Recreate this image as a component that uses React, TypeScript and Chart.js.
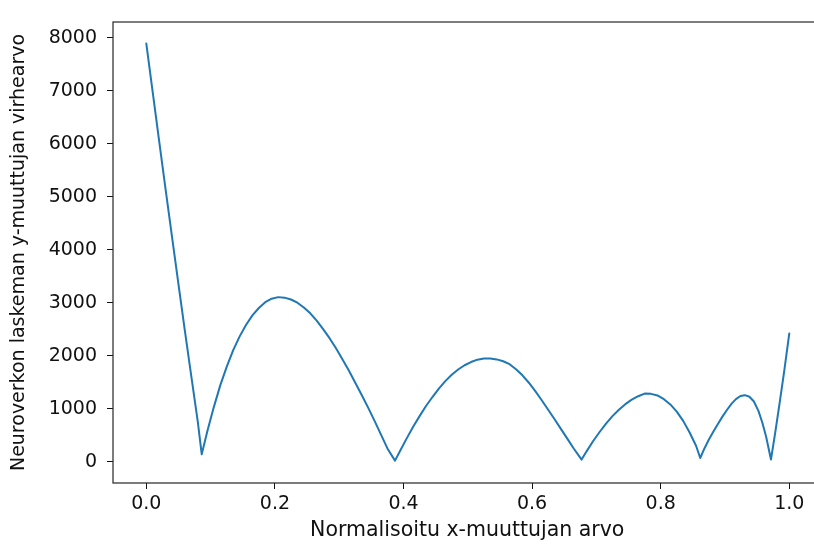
import { useEffect, useRef } from "react";
import { Chart, registerables } from "chart.js";

Chart.register(...registerables);

const xValues = [
  0, 0.01, 0.02, 0.03, 0.04, 0.05, 0.06, 0.07, 0.08, 0.0862,
  0.095, 0.105, 0.115, 0.125, 0.135, 0.145, 0.155, 0.165, 0.175, 0.185, 0.195,
  0.205, 0.215, 0.225, 0.235, 0.245, 0.255, 0.265, 0.275, 0.285, 0.295, 0.305,
  0.315, 0.325, 0.335, 0.345, 0.355, 0.365, 0.375, 0.3868,
  0.395, 0.405, 0.415, 0.425, 0.435, 0.445, 0.455, 0.465, 0.475, 0.485, 0.495,
  0.505, 0.515, 0.525, 0.535, 0.545, 0.555, 0.565, 0.575, 0.585, 0.595, 0.605,
  0.615, 0.625, 0.635, 0.645, 0.655, 0.665, 0.677,
  0.685, 0.695, 0.705, 0.715, 0.725, 0.735, 0.745, 0.755, 0.765, 0.775, 0.785,
  0.795, 0.805, 0.815, 0.825, 0.835, 0.845, 0.855, 0.8615,
  0.868, 0.875, 0.882, 0.889, 0.896, 0.903, 0.91, 0.917, 0.924, 0.931, 0.938,
  0.945, 0.952, 0.958, 0.964, 0.9715,
  0.978, 0.985, 0.992, 1.0,
];

const errorValues = [
  7890, 6970, 6050, 5140, 4240, 3350, 2470, 1610, 760, 140,
  580, 1030, 1440, 1790, 2100, 2360, 2580, 2760, 2900, 3010, 3075,
  3105, 3095, 3060, 3000, 2910, 2800, 2660, 2500, 2330, 2140, 1935,
  1720, 1490, 1260, 1020, 770, 510, 250, 20,
  210, 440, 660, 860, 1050, 1220, 1380, 1520, 1640, 1740, 1820,
  1880, 1925, 1945, 1947, 1930, 1895, 1840, 1745, 1630, 1490, 1330,
  1160, 980, 800, 615, 430, 245, 40,
  200, 390, 560, 720, 860, 980, 1085, 1170, 1235, 1285, 1280,
  1250, 1180, 1080, 945, 770, 550, 300, 70,
  250, 420, 570, 710, 850, 975, 1090, 1180, 1240, 1255, 1225,
  1135, 960, 740, 470, 40,
  540, 1110, 1700, 2420,
];

const xTickValues = [0, 0.2, 0.4, 0.6, 0.8, 1.0];
const yTickValues = [0, 1000, 2000, 3000, 4000, 5000, 6000, 7000, 8000];

const xAxisTitle = "Normalisoitu x-muuttujan arvo";
const yAxisTitle = "Neuroverkon laskeman y-muuttujan virhearvo";

const FONT = "'DejaVu Sans', 'Noto Sans', sans-serif";
const INK = "#111111";

const framePlugin = {
  id: "frame",
  afterDatasetsDraw(chart: any) {
    const { ctx, chartArea } = chart;
    const { left, top, right, bottom } = chartArea;
    ctx.save();
    ctx.strokeStyle = "#262626";
    ctx.lineWidth = 1.2;
    ctx.strokeRect(left, top, right - left, bottom - top);
    ctx.restore();
  },
};

export default function App() {
  const canvasRef = useRef<HTMLCanvasElement | null>(null);

  useEffect(() => {
    const canvas = canvasRef.current;
    if (!canvas) return;
    const points = xValues.map((x, i) => ({ x, y: errorValues[i] }));
    const chart = new Chart(canvas, {
      type: "line",
      data: {
        datasets: [
          {
            data: points,
            borderColor: "#1f77b4",
            borderWidth: 2,
            pointRadius: 0,
            tension: 0,
            borderJoinStyle: "round",
            borderCapStyle: "round",
            fill: false,
          },
        ],
      },
      options: {
        animation: false,
        responsive: false,
        layout: { padding: { top: 22, right: 8.5, left: 0, bottom: 0 } },
        plugins: {
          legend: { display: false },
          tooltip: { enabled: false },
        },
        scales: {
          x: {
            type: "linear",
            min: -0.0518,
            max: 1.0501,
            afterBuildTicks: (scale: any) => {
              scale.ticks = xTickValues.map((v) => ({ value: v }));
            },
            afterFit: (scale: any) => {
              scale.height = 63;
            },
            grid: {
              drawOnChartArea: false,
              drawTicks: true,
              tickLength: 6,
              tickColor: INK,
              tickWidth: 1,
            },
            border: { display: false },
            ticks: {
              padding: 4,
              color: INK,
              font: { family: FONT, size: 19 },
              maxRotation: 0,
              autoSkip: false,
              callback: (v: any) => Number(v).toFixed(1),
            },
            title: {
              display: true,
              text: xAxisTitle,
              color: INK,
              font: { family: FONT, size: 20.5 },
              padding: { top: 0, bottom: 3.5 },
            },
          },
          y: {
            type: "linear",
            min: -402,
            max: 8296,
            afterBuildTicks: (scale: any) => {
              scale.ticks = yTickValues.map((v) => ({ value: v }));
            },
            afterFit: (scale: any) => {
              scale.width = 113;
            },
            grid: {
              drawOnChartArea: false,
              drawTicks: true,
              tickLength: 6,
              tickColor: INK,
              tickWidth: 1,
            },
            border: { display: false },
            ticks: {
              padding: 10,
              color: INK,
              font: { family: FONT, size: 19 },
              autoSkip: false,
              callback: (v: any) => String(v),
            },
            title: {
              display: true,
              text: yAxisTitle,
              color: INK,
              font: { family: FONT, size: 19 },
              padding: { top: 7.6, bottom: 0 },
            },
          },
        },
      },
      plugins: [framePlugin],
    });
    return () => chart.destroy();
  }, []);

  return (
    <div
      style={{
        position: "fixed",
        left: 0,
        top: 0,
        width: 814,
        height: 546,
        overflow: "hidden",
        background: "#fff",
      }}
    >
      <canvas ref={canvasRef} width={830} height={546} style={{ display: "block" }} />
    </div>
  );
}
